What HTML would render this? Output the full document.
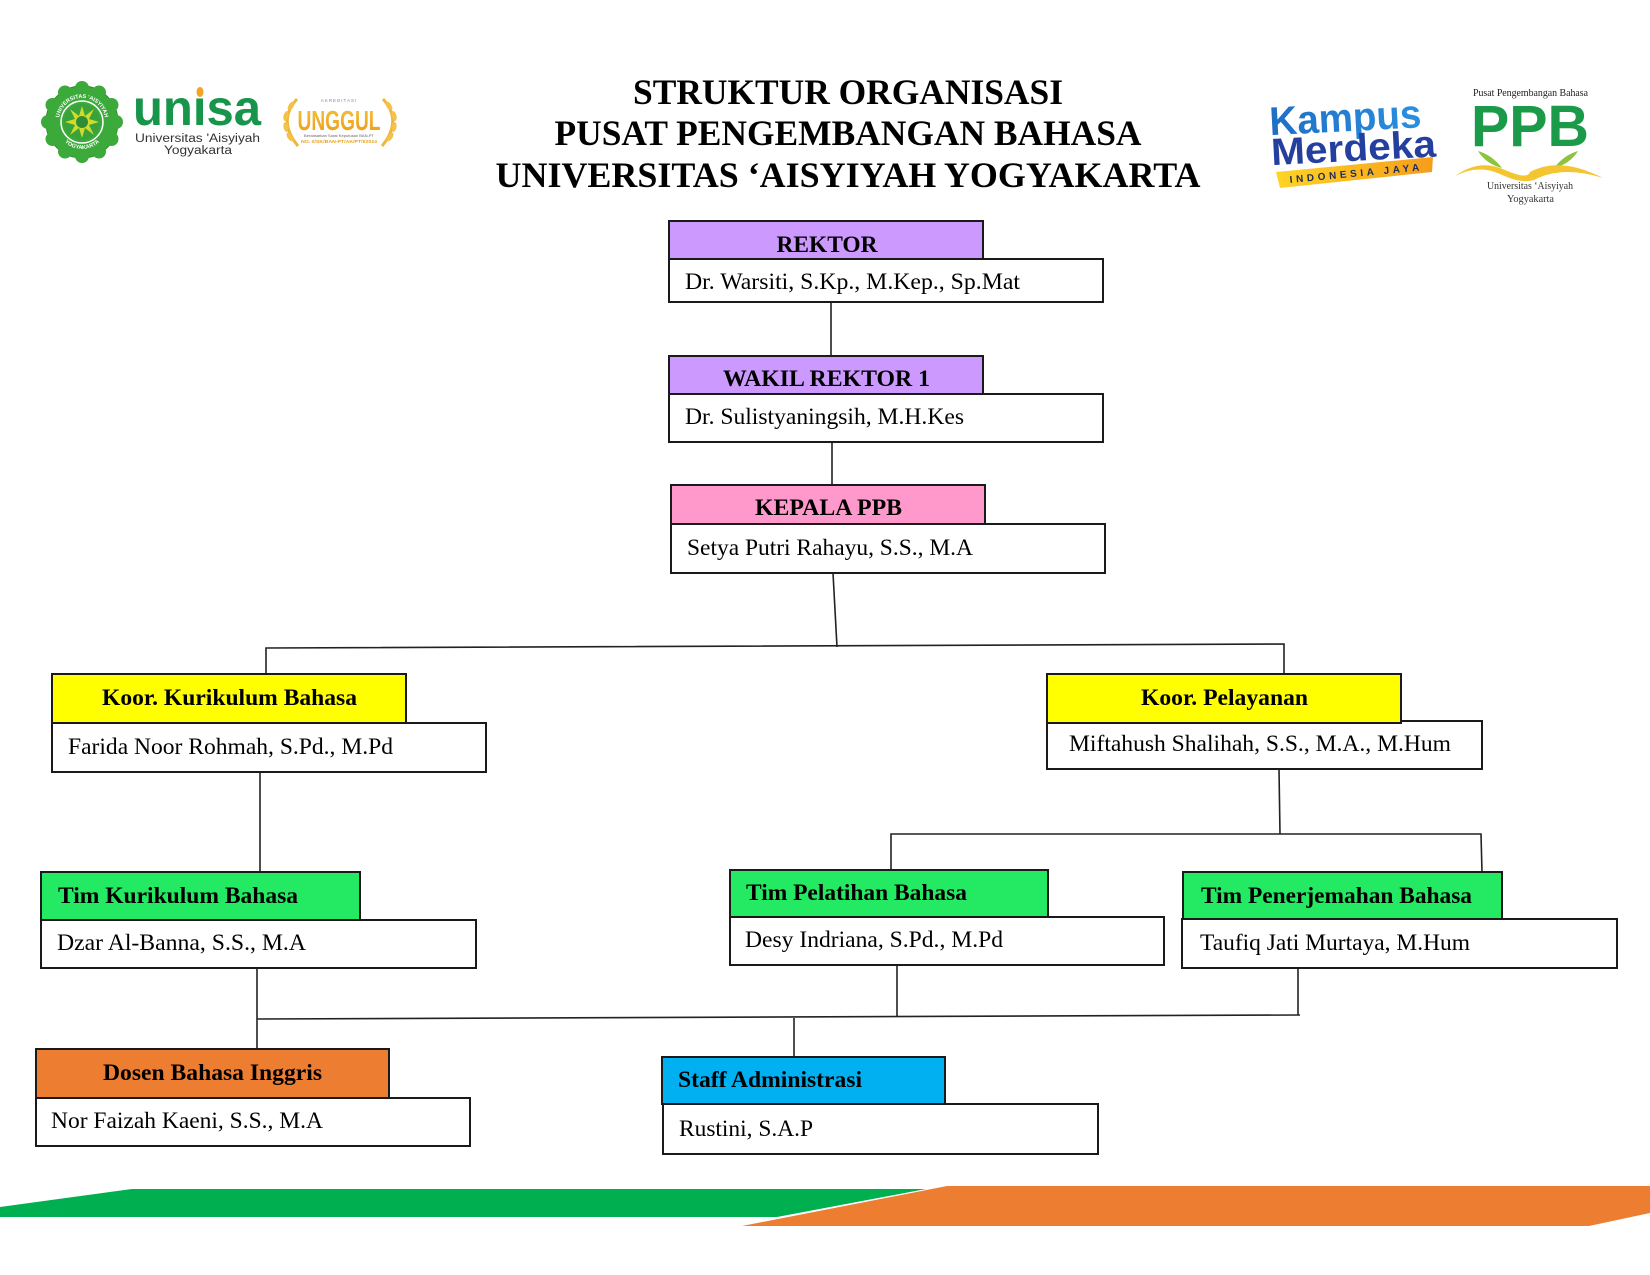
<!DOCTYPE html>
<html>
<head>
<meta charset="utf-8">
<style>
html,body{margin:0;padding:0;background:#fff;}
svg{display:block;}
</style>
</head>
<body>
<svg width="1650" height="1275" viewBox="0 0 1650 1275" xmlns="http://www.w3.org/2000/svg">
<defs>
<linearGradient id="kmBlue" x1="0" y1="0" x2="1" y2="0">
<stop offset="0" stop-color="#1f6fc4"/><stop offset="1" stop-color="#2a8fe0"/>
</linearGradient>
<linearGradient id="kmBanner" x1="0" y1="0" x2="1" y2="0">
<stop offset="0" stop-color="#ffd424"/><stop offset="1" stop-color="#f59d1c"/>
</linearGradient>
<linearGradient id="gold" x1="0" y1="0" x2="0" y2="1">
<stop offset="0" stop-color="#f7c23a"/><stop offset="1" stop-color="#ee9a18"/>
</linearGradient>
<path id="sealTop" d="M59,121 A23,23 0 0 1 105,121"/>
<path id="sealBot" d="M57,124 A25,25 0 0 0 107,124"/>
</defs>
<rect width="1650" height="1275" fill="#fff"/>

<!-- ===== Left logos ===== -->
<g>
<circle cx="82" cy="122" r="36" fill="#3caa3a" stroke="#2d8a2e" stroke-width="1"/>
<g fill="#3caa3a">
<circle cx="82" cy="88" r="7"/><circle cx="99" cy="92.5" r="7"/><circle cx="111.5" cy="105" r="7"/>
<circle cx="116" cy="122" r="7"/><circle cx="111.5" cy="139" r="7"/><circle cx="99" cy="151.5" r="7"/>
<circle cx="82" cy="156" r="7"/><circle cx="65" cy="151.5" r="7"/><circle cx="52.5" cy="139" r="7"/>
<circle cx="48" cy="122" r="7"/><circle cx="52.5" cy="105" r="7"/><circle cx="65" cy="92.5" r="7"/>
</g>
<circle cx="82" cy="122" r="21" fill="none" stroke="#fff" stroke-width="1.5"/>
<circle cx="82" cy="122" r="18" fill="#3aa23a"/>
<polygon points="82,106 85,116 94,109 89,119 99,122 89,125 94,135 85,128 82,138 79,128 70,135 75,125 65,122 75,119 70,109 79,116" fill="#cfdc2c"/>
<circle cx="82" cy="122" r="6" fill="#2f8e35"/>
<text font-family="Liberation Sans, sans-serif" font-size="5.5" font-weight="bold" fill="#fff"><textPath href="#sealTop" startOffset="50%" text-anchor="middle">UNIVERSITAS 'AISYIYAH</textPath></text>
<text font-family="Liberation Sans, sans-serif" font-size="5.5" font-weight="bold" fill="#fff"><textPath href="#sealBot" startOffset="50%" text-anchor="middle">YOGYAKARTA</textPath></text>
</g>
<g>
<text x="133" y="125" font-family="Liberation Sans, sans-serif" font-weight="bold" font-size="50" fill="#17954a" textLength="128" lengthAdjust="spacingAndGlyphs">unisa</text>
<rect x="192" y="86" width="14" height="12" fill="#fff"/>
<ellipse cx="200" cy="92" rx="3.5" ry="5" fill="#f3a424"/>
<text x="135" y="142" font-family="Liberation Sans, sans-serif" font-size="11.5" fill="#333" textLength="125" lengthAdjust="spacingAndGlyphs">Universitas 'Aisyiyah</text>
<text x="164" y="154" font-family="Liberation Sans, sans-serif" font-size="11.5" fill="#333" textLength="68" lengthAdjust="spacingAndGlyphs">Yogyakarta</text>
</g>
<g>
<path d="M297,99 Q277,121 298,146" fill="none" stroke="#eeb63a" stroke-width="3"/>
<path d="M383,99 Q403,121 382,146" fill="none" stroke="#eeb63a" stroke-width="3"/>
<g fill="#f2c24a">
<ellipse cx="291" cy="106" rx="2.5" ry="5" transform="rotate(30 291 106)"/>
<ellipse cx="286" cy="116" rx="2.5" ry="5" transform="rotate(15 286 116)"/>
<ellipse cx="286" cy="127" rx="2.5" ry="5" transform="rotate(-10 286 127)"/>
<ellipse cx="290" cy="137" rx="2.5" ry="5" transform="rotate(-35 290 137)"/>
<ellipse cx="389" cy="106" rx="2.5" ry="5" transform="rotate(-30 389 106)"/>
<ellipse cx="394" cy="116" rx="2.5" ry="5" transform="rotate(-15 394 116)"/>
<ellipse cx="394" cy="127" rx="2.5" ry="5" transform="rotate(10 394 127)"/>
<ellipse cx="390" cy="137" rx="2.5" ry="5" transform="rotate(35 390 137)"/>
</g>
<text x="339" y="102" text-anchor="middle" font-family="Liberation Sans, sans-serif" font-size="4.5" fill="#888" letter-spacing="1">AKREDITASI</text>
<text x="339" y="130" text-anchor="middle" font-family="Liberation Sans, sans-serif" font-weight="bold" font-size="28" fill="url(#gold)" textLength="83" lengthAdjust="spacingAndGlyphs">UNGGUL</text>
<text x="339" y="137" text-anchor="middle" font-family="Liberation Sans, sans-serif" font-size="4" fill="#666" textLength="70" lengthAdjust="spacingAndGlyphs">Berdasarkan Surat Keputusan BAN-PT</text>
<text x="339" y="143" text-anchor="middle" font-family="Liberation Sans, sans-serif" font-weight="bold" font-size="4.5" fill="#e9a21f" textLength="76" lengthAdjust="spacingAndGlyphs">NO. 0/SK/BAN-PT/AK/PT/I/2024</text>
</g>

<!-- ===== Title ===== -->
<g font-family="Liberation Serif, serif" font-weight="bold" font-size="36" fill="#000" text-anchor="middle">
<text x="848" y="104" textLength="430" lengthAdjust="spacingAndGlyphs">STRUKTUR ORGANISASI</text>
<text x="848" y="145" textLength="587" lengthAdjust="spacingAndGlyphs">PUSAT PENGEMBANGAN BAHASA</text>
<text x="848" y="187" textLength="705" lengthAdjust="spacingAndGlyphs">UNIVERSITAS ‘AISYIYAH YOGYAKARTA</text>
</g>

<!-- ===== Right logos ===== -->
<g>
<g transform="rotate(-3 1350 130)">
<text x="1270" y="131" font-family="Liberation Sans, sans-serif" font-weight="bold" font-size="40" fill="url(#kmBlue)" textLength="152" lengthAdjust="spacingAndGlyphs">Kampus</text>
<text x="1270" y="161" font-family="Liberation Sans, sans-serif" font-weight="bold" font-size="38" fill="#243f9e" textLength="165" lengthAdjust="spacingAndGlyphs">Merdeka</text>
</g>
<polygon points="1276,172 1433,157 1432,172 1280,188" fill="url(#kmBanner)"/>
<text x="1290" y="183" font-family="Liberation Sans, sans-serif" font-weight="bold" font-size="10" fill="#1d2b5a" textLength="130" lengthAdjust="spacing" transform="rotate(-5.5 1290 183)">INDONESIA JAYA</text>

<text x="1473" y="96" font-family="Liberation Serif, serif" font-size="10.5" fill="#222" textLength="115" lengthAdjust="spacingAndGlyphs">Pusat Pengembangan Bahasa</text>
<text x="1471" y="146" font-family="Liberation Sans, sans-serif" font-weight="bold" font-size="58" fill="#1b9a49" textLength="118" lengthAdjust="spacingAndGlyphs">PPB</text>
<path d="M1478,151 Q1492,155 1502,168 Q1486,164 1478,151 Z" fill="#8cc43f"/>
<path d="M1578,151 Q1564,155 1554,168 Q1570,164 1578,151 Z" fill="#8cc43f"/>
<path d="M1455,176 Q1480,158 1505,170 Q1528,180 1530,172 Q1560,156 1603,178 Q1565,166 1538,178 Q1525,186 1500,174 Q1478,164 1455,176 Z" fill="#f3c531"/>
<text x="1487" y="189" font-family="Liberation Serif, serif" font-size="11" fill="#333" textLength="86" lengthAdjust="spacingAndGlyphs">Universitas ‘Aisyiyah</text>
<text x="1507" y="202" font-family="Liberation Serif, serif" font-size="11" fill="#333" textLength="47" lengthAdjust="spacingAndGlyphs">Yogyakarta</text>
</g>

<!-- ===== Connectors ===== -->
<g stroke="#222" stroke-width="1.6" fill="none">
<path d="M831,302 L831,356"/>
<path d="M832,442 L832,485"/>
<path d="M833,573 L837,647"/>
<path d="M266,674 L266,648 L1284,644 L1284,674"/>
<path d="M260,772 L260,872"/>
<path d="M1279,769 L1280,834"/>
<path d="M891,870 L891,834 L1481,834 L1482,872"/>
<path d="M257,968 L257,1049"/>
<path d="M257,1019 L1300,1015"/>
<path d="M897,965 L897,1016"/>
<path d="M1298,968 L1298,1015"/>
<path d="M794,1018 L794,1057"/>
</g>

<!-- ===== Boxes ===== -->
<g stroke="#1a1a1a" stroke-width="2">
<rect x="669" y="259" width="434" height="43" fill="#fff"/>
<rect x="669" y="221" width="314" height="38" fill="#cc99ff"/>

<rect x="669" y="394" width="434" height="48" fill="#fff"/>
<rect x="669" y="356" width="314" height="38" fill="#cc99ff"/>

<rect x="671" y="524" width="434" height="49" fill="#fff"/>
<rect x="671" y="485" width="314" height="39" fill="#ff99cc"/>

<rect x="52" y="723" width="434" height="49" fill="#fff"/>
<rect x="52" y="674" width="354" height="49" fill="#ffff00"/>

<rect x="1047" y="721" width="435" height="48" fill="#fff"/>
<rect x="1047" y="674" width="354" height="49" fill="#ffff00"/>

<rect x="41" y="920" width="435" height="48" fill="#fff"/>
<rect x="41" y="872" width="319" height="48" fill="#23ea62"/>

<rect x="730" y="917" width="434" height="48" fill="#fff"/>
<rect x="730" y="870" width="318" height="47" fill="#23ea62"/>

<rect x="1182" y="919" width="435" height="49" fill="#fff"/>
<rect x="1183" y="872" width="319" height="47" fill="#23ea62"/>

<rect x="36" y="1098" width="434" height="48" fill="#fff"/>
<rect x="36" y="1049" width="353" height="49" fill="#ed7d31"/>

<rect x="663" y="1104" width="435" height="50" fill="#fff"/>
<rect x="662" y="1057" width="283" height="47" fill="#00b0f0"/>
</g>

<!-- ===== Box text ===== -->
<g font-family="Liberation Serif, serif" font-weight="bold" font-size="23.4" fill="#000">
<text x="827" y="252" text-anchor="middle" textLength="101" lengthAdjust="spacingAndGlyphs">REKTOR</text>
<text x="826.5" y="386" text-anchor="middle" textLength="207" lengthAdjust="spacingAndGlyphs">WAKIL REKTOR 1</text>
<text x="828.5" y="515" text-anchor="middle" textLength="147" lengthAdjust="spacingAndGlyphs">KEPALA PPB</text>
<text x="229.5" y="705" text-anchor="middle" textLength="255" lengthAdjust="spacingAndGlyphs">Koor. Kurikulum Bahasa</text>
<text x="1224.5" y="705" text-anchor="middle" textLength="167" lengthAdjust="spacingAndGlyphs">Koor. Pelayanan</text>
<text x="58" y="903" textLength="240" lengthAdjust="spacingAndGlyphs">Tim Kurikulum Bahasa</text>
<text x="746" y="900" textLength="221" lengthAdjust="spacingAndGlyphs">Tim Pelatihan Bahasa</text>
<text x="1201" y="903" textLength="271" lengthAdjust="spacingAndGlyphs">Tim Penerjemahan Bahasa</text>
<text x="212.5" y="1080" text-anchor="middle" textLength="219" lengthAdjust="spacingAndGlyphs">Dosen Bahasa Inggris</text>
<text x="678" y="1087" textLength="184" lengthAdjust="spacingAndGlyphs">Staff Administrasi</text>
</g>
<g font-family="Liberation Serif, serif" font-size="23.5" fill="#000">
<text x="685" y="289" textLength="335" lengthAdjust="spacingAndGlyphs">Dr. Warsiti, S.Kp., M.Kep., Sp.Mat</text>
<text x="685" y="424" textLength="279" lengthAdjust="spacingAndGlyphs">Dr. Sulistyaningsih, M.H.Kes</text>
<text x="687" y="555" textLength="286" lengthAdjust="spacingAndGlyphs">Setya Putri Rahayu, S.S., M.A</text>
<text x="68" y="754" textLength="325" lengthAdjust="spacingAndGlyphs">Farida Noor Rohmah, S.Pd., M.Pd</text>
<text x="1069" y="751" textLength="382" lengthAdjust="spacingAndGlyphs">Miftahush Shalihah, S.S., M.A., M.Hum</text>
<text x="57" y="950" textLength="249" lengthAdjust="spacingAndGlyphs">Dzar Al-Banna, S.S., M.A</text>
<text x="745" y="947" textLength="258" lengthAdjust="spacingAndGlyphs">Desy Indriana, S.Pd., M.Pd</text>
<text x="1200" y="950" textLength="270" lengthAdjust="spacingAndGlyphs">Taufiq Jati Murtaya, M.Hum</text>
<text x="51" y="1128" textLength="272" lengthAdjust="spacingAndGlyphs">Nor Faizah Kaeni, S.S., M.A</text>
<text x="679" y="1136" textLength="134" lengthAdjust="spacingAndGlyphs">Rustini, S.A.P</text>
</g>

<!-- ===== Bottom stripes ===== -->
<polygon points="0,1207 132,1189 926,1189 777,1217 0,1217" fill="#00b050"/>
<polygon points="947,1186 1650,1186 1650,1213 1589,1226 742,1226" fill="#ed7d31"/>
</svg>
</body>
</html>
